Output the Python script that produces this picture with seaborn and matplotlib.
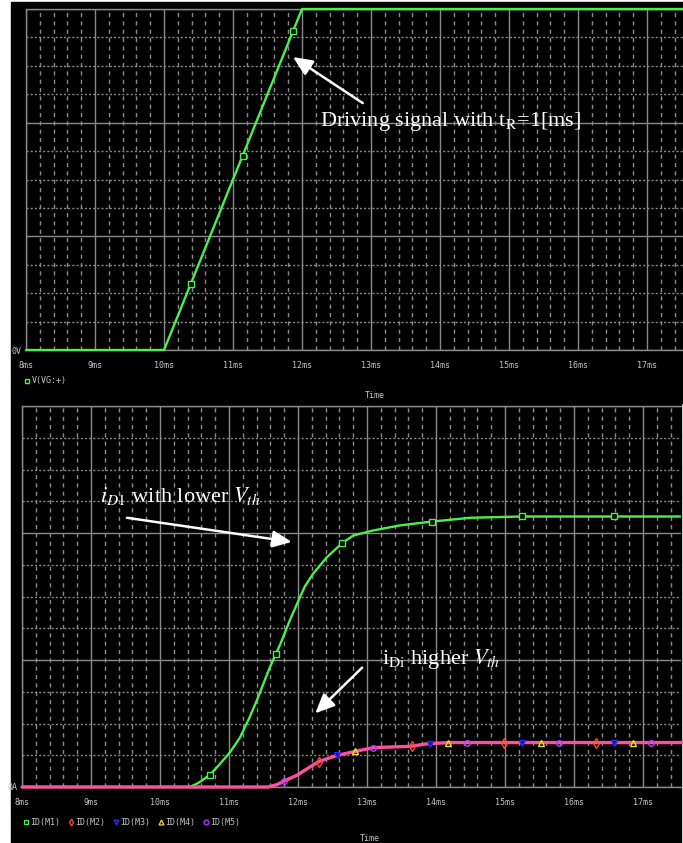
import numpy as np
import pandas as pd
import matplotlib
matplotlib.use("Agg")
import matplotlib.pyplot as plt
import seaborn as sns
from matplotlib.patches import Rectangle
from matplotlib.lines import Line2D
from matplotlib.ticker import MultipleLocator

# ---- data (time in ms) ----
vg_t = [8.0, 10.0, 12.0, 17.6]
vg_v = [0.0, 0.0, 12.0, 12.0]
vg_mark_t = [10.39, 11.14, 11.87]

id1_t = [8.0, 10.43, 10.55, 10.72, 10.85, 11.01, 11.16, 11.30, 11.41, 11.59, 11.74,
         11.88, 12.00, 12.10, 12.22, 12.42, 12.64, 12.80, 13.09, 13.48, 13.94, 14.50,
         15.25, 17.6]
id1_v = [0.0, 0.0, 0.03, 0.094, 0.17, 0.27, 0.39, 0.55, 0.69, 0.94, 1.12,
         1.31, 1.46, 1.58, 1.68, 1.81, 1.92, 1.98, 2.02, 2.06, 2.09, 2.12,
         2.13, 2.13]
id1_mark_t = [10.72, 11.68, 12.64, 13.94, 15.25, 16.58]

# ID(M2)..ID(M5) lie on top of each other
idx_t = [8.0, 11.57, 11.70, 11.80, 11.99, 12.15, 12.30, 12.57, 12.83, 13.09, 13.62,
         13.87, 14.20, 17.6]
idx_v = [0.0, 0.0, 0.02, 0.047, 0.094, 0.15, 0.20, 0.25, 0.28, 0.31, 0.32,
         0.34, 0.35, 0.35]
m2_mark_t = [12.30, 13.65, 14.99, 16.32]
m3_mark_t = [12.57, 13.91, 15.25, 16.58]
m4_mark_t = [12.83, 14.17, 15.52, 16.86]
m5_mark_t = [11.80, 13.09, 14.45, 15.78, 17.12]

xticks = list(range(8, 18))
xticklabels = [f"{t}ms" for t in xticks]

W, H = 683, 843
GRID = "#8a8a8a"
TXT = "#c4c4c4"
FS = 6

sns.set_theme(style="dark")
plt.rcParams["font.family"] = ["DejaVu Sans Mono"]
plt.rcParams["mathtext.fontset"] = "stix"

fig = plt.figure(figsize=(W / 100, H / 100), dpi=100, facecolor="white")

# black PSpice panels
fig.patches.append(Rectangle((11 / W, 1 - 403 / H), (W - 11) / W, 401 / H,
                             transform=fig.transFigure, color="black", zorder=-10))
fig.patches.append(Rectangle((11 / W, 0), (681 - 11) / W, 1 - 403 / H,
                             transform=fig.transFigure, color="black", zorder=-10))

ax1 = fig.add_axes([26 / W, 1 - 350 / H, (W - 26) / W, 341 / H])
ax2 = fig.add_axes([22 / W, 1 - 787 / H, (681 - 22) / W, 381 / H])


def style_axes(ax, xmax, ymax, ymaj, ymin, ylab):
    ax.set_facecolor("black")
    ax.set_xlim(8, xmax)
    ax.set_ylim(0, ymax)
    ax.set_xticks(xticks)
    ax.set_xticklabels(xticklabels)
    ax.xaxis.set_minor_locator(MultipleLocator(0.2))
    ax.set_yticks(np.arange(0, ymax + 1e-9, ymaj))
    ax.set_yticklabels([ylab] + [""] * (len(ax.get_yticks()) - 1))
    ax.yaxis.set_minor_locator(MultipleLocator(ymin))
    ax.set_axisbelow(True)
    ax.grid(which="major", color=GRID, lw=1.0, ls="-")
    ax.xaxis.grid(which="minor", color=GRID, lw=1.0, ls=(0, (3, 3)))
    ax.yaxis.grid(which="minor", color=GRID, lw=1.0, ls=(0, (1.5, 1.5)))
    ax.tick_params(axis="x", which="both", length=0, pad=8, labelsize=FS, labelcolor=TXT)
    ax.tick_params(axis="y", which="major", length=3, width=1, color=GRID, pad=0.5,
                   labelsize=FS, labelcolor=TXT)
    ax.tick_params(axis="y", which="minor", length=0)
    for s in ["left", "top", "bottom"]:
        ax.spines[s].set_color(GRID)
        ax.spines[s].set_linewidth(1.0)
    ax.spines["right"].set_visible(False)


GREEN = "#4cf04c"
PINK = "#ff4fa0"
ARROW = dict(arrowstyle="-|>,head_length=0.9,head_width=0.4", color="white",
             lw=1.8, shrinkA=0, shrinkB=0, mutation_scale=13)

# ---- top: driving signal ----
df_vg = pd.DataFrame({"t": vg_t, "v": vg_v})
sns.lineplot(data=df_vg, x="t", y="v", ax=ax1, color=GREEN, lw=1.7, clip_on=False, zorder=3)
ax1.plot(vg_mark_t, np.interp(vg_mark_t, vg_t, vg_v), ls="none", marker="s", ms=4,
         mfc="black", mec=GREEN, mew=1.0, zorder=4)
style_axes(ax1, 8 + (W - 26) / 69, 12, 4, 1, "0V")
ax1.set_ylabel("")
ax1.set_xlabel("Time", fontsize=FS, color=TXT)
ax1.xaxis.set_label_coords((375 - 26) / 657, -(391 - 350) / 341)

ax1.annotate("", xy=(11.87, 10.31), xytext=(12.88, 8.69), arrowprops=ARROW)
ax1.text(12.26, 8.05, r"Driving signal with t$_{\mathrm{R}}$=1[ms]", color="white",
         fontsize=16, family="Liberation Serif", ha="left", va="center")

ax1.legend(handles=[Line2D([], [], ls="none", marker="s", ms=3.5, mfc="black", mec=GREEN)],
           labels=["V(VG:+)"], loc="center left", bbox_to_anchor=(24 / W, 1 - 381 / H),
           bbox_transform=fig.transFigure, frameon=False, handlelength=0.6,
           handletextpad=0.3, borderpad=0, borderaxespad=0, labelcolor=TXT,
           prop={"family": "DejaVu Sans Mono", "size": FS})

# ---- bottom: drain currents ----
df_id1 = pd.DataFrame({"t": id1_t, "i": id1_v})
df_idx = pd.DataFrame({"t": idx_t, "i": idx_v})
sns.lineplot(data=df_id1, x="t", y="i", ax=ax2, color=GREEN, lw=1.7, zorder=3)
sns.lineplot(data=df_idx, x="t", y="i", ax=ax2, color=PINK, lw=2.4, zorder=3,
             clip_on=False)
style_axes(ax2, 8 + (681 - 22) / 69, 3, 1, 0.25, "0A")
ax2.set_ylabel("")
ax2.set_xlabel("Time", fontsize=FS, color=TXT)
ax2.xaxis.set_label_coords((370 - 22) / 659, -(834 - 787) / 381)

series = [
    (id1_mark_t, id1_t, id1_v, "s", GREEN, "black", 4, "ID(M1)"),
    (m2_mark_t, idx_t, idx_v, "d", "#ff4a30", "none", 5, "ID(M2)"),
    (m3_mark_t, idx_t, idx_v, "v", "#2a2aff", "#1a1090", 4.5, "ID(M3)"),
    (m4_mark_t, idx_t, idx_v, "^", "#e8e020", "none", 4.5, "ID(M4)"),
    (m5_mark_t, idx_t, idx_v, "o", "#b040ff", "none", 4, "ID(M5)"),
]
handles, labels = [], []
for mt, ct, cv, mk, ec, fc, ms, lab in series:
    ax2.plot(mt, np.interp(mt, ct, cv), ls="none", marker=mk, ms=ms, mfc=fc, mec=ec,
             mew=1.0, zorder=4)
    handles.append(Line2D([], [], ls="none", marker=mk, ms=3.5, mfc=fc, mec=ec, mew=0.9))
    labels.append(lab)

ax2.legend(handles=handles, labels=labels, loc="center left", ncol=5,
           bbox_to_anchor=(23 / W, 1 - 822 / H), bbox_transform=fig.transFigure,
           frameon=False, handlelength=0.6, handletextpad=0.3, columnspacing=0.9,
           borderpad=0, borderaxespad=0, labelcolor=TXT,
           prop={"family": "DejaVu Sans Mono", "size": FS})

ax2.annotate("", xy=(11.91, 1.93), xytext=(9.52, 2.12), arrowprops=ARROW)
ax2.text(9.13, 2.29, r"$i_{D1}$ with lower $V_{th}$", color="white",
         fontsize=16, family="Liberation Serif", ha="left", va="center")

ax2.annotate("", xy=(12.25, 0.58), xytext=(12.93, 0.94), arrowprops=ARROW)
ax2.text(13.22, 1.01, r"i$_{\mathrm{Di}}$ higher $V_{th}$", color="white",
         fontsize=16, family="Liberation Serif", ha="left", va="center")

fig.savefig("out.png", dpi=100, facecolor="white")
